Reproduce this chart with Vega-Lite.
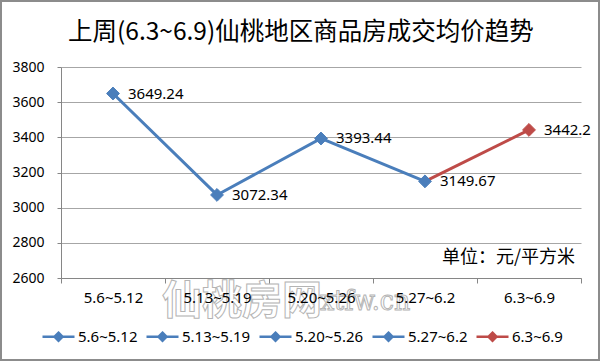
{
  "$schema": "https://vega.github.io/schema/vega-lite/v6.json",
  "width": 598,
  "height": 359,
  "padding": 1,
  "autosize": "none",
  "background": "white",
  "config": {
    "view": {"stroke": "#8c8c8c", "strokeWidth": 2},
    "font": "Noto Sans"
  },
  "title": {
    "text": "上周(6.3~6.9)仙桃地区商品房成交均价趋势",
    "anchor": "start",
    "frame": "group",
    "dx": 67,
    "offset": -63,
    "fontSize": 24.5,
    "font": "Noto Sans CJK SC",
    "fontWeight": "normal",
    "color": "#000000",
    "baseline": "alphabetic"
  },
  "datasets": {
    "weeks": [
      {"week": "5.6~5.12", "price": 3649.24},
      {"week": "5.13~5.19", "price": 3072.34},
      {"week": "5.20~5.26", "price": 3393.44},
      {"week": "5.27~6.2", "price": 3149.67},
      {"week": "6.3~6.9", "price": 3442.2}
    ]
  },
  "data": {"name": "weeks"},
  "layer": [
    {
      "data": {"values": [{"t": "仙桃房网"}]},
      "mark": {"type": "text", "fontSize": 40, "font": "Noto Sans CJK SC", "fontWeight": "bold", "stroke": "#b4b4b4", "strokeWidth": 1, "fill": "white", "fillOpacity": 0, "baseline": "middle", "align": "center", "dx": 25},
      "encoding": {
        "x": {
          "datum": "5.13~5.19",
          "type": "nominal",
          "scale": {
            "type": "band",
            "domain": ["5.6~5.12", "5.13~5.19", "5.20~5.26", "5.27~6.2", "6.3~6.9"],
            "range": [60, 580],
            "paddingInner": 0,
            "paddingOuter": 0
          },
          "axis": {
            "orient": "bottom",
            "offset": -82,
            "title": null,
            "tickBand": "extent",
            "tickSize": 5,
            "labelPadding": 7,
            "labelFontSize": 15,
            "labelColor": "#000000",
            "labelFont": "Noto Sans",
            "domainColor": "#868686",
            "tickColor": "#868686",
            "labelAngle": 0,
            "grid": false,
            "zindex": 1
          }
        },
        "y": {
          "datum": 2463,
          "type": "quantitative",
          "scale": {"domain": [2600, 3800], "range": [277, 66], "nice": false, "zero": false},
          "axis": {
            "orient": "left",
            "offset": -60,
            "title": null,
            "values": [2600, 2800, 3000, 3200, 3400, 3600, 3800],
            "format": "d",
            "tickSize": 4,
            "labelPadding": 13,
            "labelFontSize": 14,
            "labelColor": "#000000",
            "labelFont": "Noto Sans",
            "domainColor": "#868686",
            "tickColor": "#868686",
            "gridColor": "#a6a6a6",
            "grid": true
          }
        },
        "text": {"field": "t", "type": "nominal"}
      }
    },
    {
      "data": {"values": [{"t": "xtfw.cn"}]},
      "mark": {"type": "text", "fontSize": 28, "font": "DejaVu Serif Condensed", "stroke": "#b4b4b4", "strokeWidth": 1, "fill": "white", "fillOpacity": 0, "baseline": "middle", "align": "center", "dx": 44},
      "encoding": {
        "x": {"datum": "5.20~5.26", "type": "nominal"},
        "y": {"datum": 2463, "type": "quantitative"},
        "text": {"field": "t", "type": "nominal"}
      }
    },
    {
      "data": {"values": [{"t": "单位：元/平方米"}]},
      "mark": {"type": "text", "fontSize": 18, "font": "Noto Sans CJK SC", "color": "#000000", "baseline": "middle", "align": "right", "dx": 46},
      "encoding": {
        "x": {"datum": "6.3~6.9", "type": "nominal"},
        "y": {"datum": 2714, "type": "quantitative"},
        "text": {"field": "t", "type": "nominal"}
      }
    },
    {
      "transform": [{"filter": {"field": "week", "oneOf": ["5.6~5.12", "5.13~5.19", "5.20~5.26", "5.27~6.2"]}}],
      "mark": {"type": "line", "color": "#4a7ebb", "strokeWidth": 3},
      "encoding": {
        "x": {"field": "week", "type": "nominal", "sort": null},
        "y": {"field": "price", "type": "quantitative"}
      }
    },
    {
      "transform": [{"filter": {"field": "week", "oneOf": ["5.27~6.2", "6.3~6.9"]}}],
      "mark": {"type": "line", "color": "#be4b48", "strokeWidth": 3},
      "encoding": {
        "x": {"field": "week", "type": "nominal", "sort": null},
        "y": {"field": "price", "type": "quantitative"}
      }
    },
    {
      "mark": {"type": "point", "shape": "diamond", "size": 165, "filled": false, "opacity": 1, "fillOpacity": 1, "strokeWidth": 1},
      "encoding": {
        "x": {"field": "week", "type": "nominal", "sort": null},
        "y": {"field": "price", "type": "quantitative"},
        "stroke": {
          "field": "week",
          "type": "nominal",
          "scale": {
            "domain": ["5.6~5.12", "5.13~5.19", "5.20~5.26", "5.27~6.2", "6.3~6.9"],
            "range": ["#4a7ebb", "#4a7ebb", "#4a7ebb", "#4a7ebb", "#be4b48"]
          },
          "legend": {
            "orient": "none",
            "legendX": 40,
            "legendY": 318,
            "direction": "horizontal",
            "title": null,
            "symbolType": "M-1,0L1,0M0,-0.25L0.25,0L0,0.25L-0.25,0Z",
            "symbolSize": 1024,
            "symbolStrokeWidth": 2.5,
            "labelFontSize": 15,
            "labelFont": "Noto Sans",
            "labelColor": "#000000",
            "labelOffset": 2,
            "columnPadding": 3,
            "padding": 0
          }
        },
        "fill": {
          "field": "week",
          "type": "nominal",
          "scale": {
            "domain": ["5.6~5.12", "5.13~5.19", "5.20~5.26", "5.27~6.2", "6.3~6.9"],
            "range": ["#4a7ebb", "#4a7ebb", "#4a7ebb", "#4a7ebb", "#be4b48"]
          },
          "legend": {
            "orient": "none",
            "legendX": 40,
            "legendY": 318,
            "direction": "horizontal",
            "title": null,
            "symbolType": "M-1,0L1,0M0,-0.25L0.25,0L0,0.25L-0.25,0Z",
            "symbolSize": 1024,
            "symbolStrokeWidth": 2.5,
            "labelFontSize": 15,
            "labelFont": "Noto Sans",
            "labelColor": "#000000",
            "labelOffset": 2,
            "columnPadding": 3,
            "padding": 0
          }
        }
      }
    },
    {
      "mark": {"type": "text", "align": "left", "baseline": "middle", "dx": 15, "fontSize": 15, "font": "Noto Sans", "color": "#000000"},
      "encoding": {
        "x": {"field": "week", "type": "nominal", "sort": null},
        "y": {"field": "price", "type": "quantitative"},
        "text": {"field": "price", "type": "quantitative"}
      }
    }
  ]
}
